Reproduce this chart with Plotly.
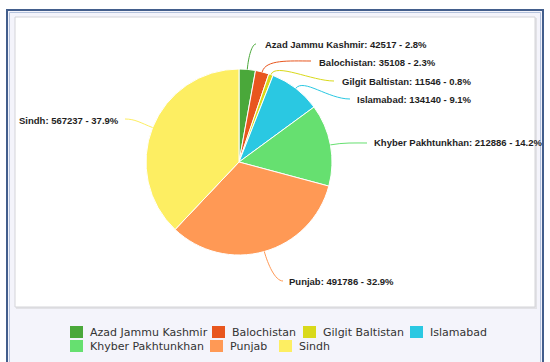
import math
import plotly.graph_objects as go

# ---------------- data ----------------
regions = ["Azad Jammu Kashmir", "Balochistan", "Gilgit Baltistan", "Islamabad",
           "Khyber Pakhtunkhan", "Punjab", "Sindh"]
counts = [42517, 35108, 11546, 134140, 212886, 491786, 567237]
percent_labels = ["2.8%", "2.3%", "0.8%", "9.1%", "14.2%", "32.9%", "37.9%"]

# ---------------- style / layout ----------------
colors = ["#4aa83a", "#e8561e", "#d9d91a", "#2ac8e2", "#66e070", "#ff9955", "#fdee62"]
W, H = 550, 362
CX, CY, R = 239, 162, 93


def px(x):
    return x / W


def py(y):
    return 1 - y / H


# label placement: (text x, text y, anchor), connector end (x, y), approach length
label_layout = [
    (263, 44, "left", 256, 44, 4),
    (317, 62, "left", 311, 61, 22),
    (340, 81, "left", 334, 81, 22),
    (355, 99, "left", 350, 99, 22),
    (372, 143, "left", 367, 143, 12),
    (287, 281, "left", 283, 281, 8),
    (121, 120, "right", 125, 119, 10),
]

# legend placement: (swatch x, row y-center)
legend_layout = [
    (70, 332), (212, 332), (303, 332), (410, 332),
    (70, 346), (210, 346), (279, 346),
]

fig = go.Figure(go.Pie(
    labels=regions,
    values=counts,
    sort=False,
    direction="clockwise",
    rotation=0,
    marker=dict(colors=colors, line=dict(color="white", width=1)),
    textinfo="none",
    hoverinfo="label+value+percent",
    domain=dict(x=[px(CX - R), px(CX + R)], y=[py(CY + R), py(CY - R)]),
    showlegend=False,
))

shapes = []
# outer blue frame
shapes.append(dict(type="rect", xref="paper", yref="paper", layer="below",
                   x0=px(7), x1=px(543), y0=py(375), y1=py(10),
                   fillcolor="#f4f4fb", line=dict(color="#435e8c", width=2)))
shapes.append(dict(type="rect", xref="paper", yref="paper", layer="below",
                   x0=px(9.5), x1=px(540.5), y0=py(375), y1=py(12.5),
                   fillcolor="rgba(0,0,0,0)", line=dict(color="#b4c2dc", width=1)))
# inner white panel with soft shadow
shapes.append(dict(type="rect", xref="paper", yref="paper", layer="below",
                   x0=px(16), x1=px(537), y0=py(309), y1=py(18),
                   fillcolor="#e2e2e6", line=dict(width=0)))
shapes.append(dict(type="rect", xref="paper", yref="paper", layer="below",
                   x0=px(15), x1=px(535), y0=py(307), y1=py(17),
                   fillcolor="#ffffff", line=dict(color="#d4d4d8", width=1)))

annotations = []
total = float(sum(counts))
cum = 0.0
for i, (name, val, pct) in enumerate(zip(regions, counts, percent_labels)):
    mid = (cum + val / 2) / total * 2 * math.pi
    cum += val
    ux, uy = math.sin(mid), -math.cos(mid)
    x0, y0 = CX + R * ux, CY + R * uy
    x1, y1 = x0 + 13 * ux, y0 + 13 * uy
    tx, ty, anchor, ex, ey, app = label_layout[i]
    sgn = 1 if anchor == "left" else -1
    x2, y2 = ex - sgn * app, ey
    path = (f"M {px(x0)},{py(y0)} C {px(x1)},{py(y1)} {px(x2)},{py(y2)} "
            f"{px(ex)},{py(ey)}")
    shapes.append(dict(type="path", xref="paper", yref="paper", path=path,
                       line=dict(color=colors[i], width=1)))
    annotations.append(dict(
        xref="paper", yref="paper", x=px(tx), y=py(ty), xanchor=anchor,
        yanchor="middle", showarrow=False,
        text=f"{name}: {val} - {pct}",
        font=dict(family="Liberation Sans, Arial, sans-serif", size=9.5,
                  color="#1e1e1e", weight="bold"),
    ))

# legend
for i, name in enumerate(regions):
    lx, ly = legend_layout[i]
    shapes.append(dict(type="rect", xref="paper", yref="paper",
                       x0=px(lx), x1=px(lx + 13), y0=py(ly + 6), y1=py(ly - 6),
                       fillcolor=colors[i], line=dict(width=0)))
    annotations.append(dict(
        xref="paper", yref="paper", x=px(lx + 18), y=py(ly), xanchor="left",
        yanchor="middle", showarrow=False, text=name,
        font=dict(family="DejaVu Sans, Verdana, sans-serif", size=11, color="#333333"),
    ))

fig.update_layout(
    width=W, height=H, autosize=False,
    margin=dict(l=0, r=0, t=0, b=0, pad=0),
    paper_bgcolor="white", plot_bgcolor="white",
    shapes=shapes, annotations=annotations,
    showlegend=False,
)

fig.write_html(
    "out.html",
    config={"displayModeBar": False},
    post_script="document.body.style.margin='0';document.body.style.overflow='hidden';",
)
